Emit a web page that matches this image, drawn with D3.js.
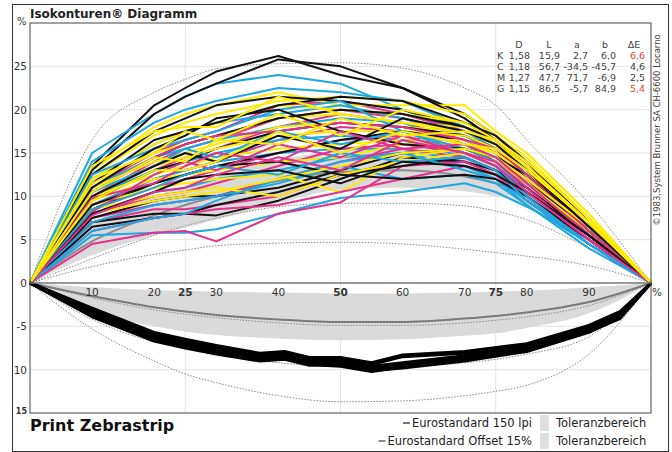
<!DOCTYPE html>
<html>
<head>
<meta charset="utf-8">
<script src="https://cdn.jsdelivr.net/npm/d3@7"></script>
<style>
  body { margin: 0; background: #fff; }
  svg text { font-family: "DejaVu Sans", Verdana, sans-serif; }
</style>
</head>
<body>
<svg id="chart" width="672" height="452"></svg>
<script>
// tone values (%) of the zebrastrip patches
const pctX = [0, 10, 20, 25, 30, 40, 50, 60, 70, 75, 80, 90, 100];
const xTicks = [10, 20, 25, 30, 40, 50, 60, 70, 75, 80, 90];
const boldTicks = [25, 50, 75];
const yTicks = [25, 20, 15, 10, 5, 0, -5, -10];
const yTickLabels = ["25", "20", "15", "10", "5", "0", "-5", "10"];

// measured curves above the axis, one value per pctX
const blackCurves = [
  [0, 13.5, 20.5, 22.5, 24.4, 26.2, 24.0, 22.5, 19.5, 17.0, 14.0, 7.0, 0],
  [0, 13.0, 19.5, 21.5, 23.0, 25.8, 25.0, 22.5, 19.0, 16.5, 13.5, 7.0, 0],
  [0, 12.5, 17.5, 19.0, 20.5, 21.5, 21.0, 20.0, 18.0, 16.0, 13.0, 6.5, 0],
  [0, 11.5, 16.5, 17.5, 18.5, 20.5, 21.5, 21.0, 18.5, 17.0, 14.0, 7.0, 0],
  [0, 10.5, 14.5, 16.0, 17.0, 19.0, 20.0, 19.5, 18.0, 16.5, 13.5, 7.0, 0],
  [0, 9.5, 13.0, 14.0, 15.5, 17.5, 18.5, 18.0, 17.0, 15.5, 12.5, 6.5, 0],
  [0, 8.5, 11.5, 12.5, 13.5, 15.0, 16.5, 17.5, 16.5, 15.0, 12.0, 6.0, 0],
  [0, 7.5, 9.5, 10.0, 10.0, 11.0, 13.0, 15.0, 15.5, 14.0, 11.5, 6.0, 0],
  [0, 7.0, 8.0, 8.0, 7.8, 9.5, 12.0, 14.5, 14.0, 13.0, 10.5, 5.5, 0],
  [0, 6.5, 7.5, 8.0, 9.0, 10.5, 12.5, 13.5, 14.5, 13.0, 11.0, 5.5, 0],
  [0, 11.0, 15.5, 17.0, 19.0, 20.0, 17.5, 16.0, 15.5, 14.5, 12.5, 6.5, 0],
  [0, 9.0, 11.5, 12.5, 13.5, 14.0, 12.5, 12.0, 12.5, 12.0, 10.0, 5.0, 0],
  [0, 10.0, 13.5, 15.0, 14.0, 17.0, 15.5, 19.0, 17.5, 16.0, 13.0, 6.5, 0],
  [0, 8.0, 10.5, 12.0, 12.5, 13.0, 11.5, 14.0, 13.5, 12.5, 10.5, 5.5, 0]
];
const cyanCurves = [
  [0, 15.0, 19.5, 21.5, 23.0, 24.0, 23.0, 20.0, 17.5, 15.5, 12.0, 5.5, 0],
  [0, 14.0, 18.5, 20.0, 21.0, 22.5, 22.0, 21.0, 18.0, 16.0, 12.5, 6.0, 0],
  [0, 12.0, 16.0, 17.5, 18.5, 19.5, 20.5, 19.0, 17.0, 15.0, 11.5, 5.5, 0],
  [0, 11.0, 14.5, 15.5, 16.5, 18.0, 19.0, 18.5, 16.0, 14.0, 11.0, 5.0, 0],
  [0, 10.0, 13.0, 14.0, 15.0, 16.5, 17.0, 16.5, 14.5, 13.0, 10.0, 4.5, 0],
  [0, 9.0, 12.0, 13.0, 14.0, 15.0, 15.5, 15.5, 14.0, 12.5, 9.5, 4.5, 0],
  [0, 8.0, 10.5, 11.0, 12.0, 13.0, 14.5, 15.0, 13.5, 12.0, 9.0, 4.0, 0],
  [0, 5.5, 5.8, 5.8, 6.2, 8.0, 9.8, 10.5, 11.5, 10.5, 8.8, 5.0, 0],
  [0, 7.0, 9.0, 9.5, 10.0, 11.5, 13.5, 12.0, 12.5, 11.5, 9.0, 4.5, 0],
  [0, 12.5, 15.5, 16.5, 17.5, 20.0, 21.0, 17.5, 15.5, 14.0, 10.5, 5.0, 0],
  [0, 6.0, 7.5, 8.0, 9.5, 12.0, 14.0, 15.0, 13.0, 12.0, 9.5, 4.5, 0],
  [0, 10.5, 13.5, 15.5, 14.5, 17.5, 16.0, 17.5, 15.0, 13.5, 10.0, 4.5, 0],
  [0, 8.5, 11.0, 12.5, 13.5, 12.5, 15.0, 14.0, 14.5, 13.0, 9.5, 4.5, 0]
];
const magentaCurves = [
  [0, 11.0, 15.0, 16.5, 17.5, 20.5, 21.0, 19.5, 17.5, 16.0, 13.0, 6.0, 0],
  [0, 10.0, 14.0, 15.5, 16.5, 19.0, 20.0, 19.0, 17.0, 15.5, 12.5, 6.0, 0],
  [0, 9.5, 13.0, 14.5, 15.5, 18.0, 19.5, 18.5, 16.5, 15.0, 12.0, 5.5, 0],
  [0, 9.0, 12.0, 13.0, 14.0, 16.5, 18.0, 17.5, 16.0, 14.5, 11.5, 5.5, 0],
  [0, 8.5, 11.0, 12.0, 13.0, 15.0, 16.5, 17.0, 15.5, 14.0, 11.0, 5.0, 0],
  [0, 8.0, 10.0, 10.5, 11.5, 13.5, 15.5, 16.0, 15.0, 13.5, 10.5, 5.0, 0],
  [0, 7.5, 9.0, 9.5, 10.0, 12.0, 14.0, 15.5, 14.5, 13.0, 10.0, 4.5, 0],
  [0, 7.0, 8.5, 8.5, 9.0, 10.0, 12.5, 14.0, 14.0, 12.5, 9.5, 4.5, 0],
  [0, 4.5, 5.8, 6.0, 4.8, 8.0, 9.3, 13.5, 14.0, 12.5, 10.0, 5.0, 0],
  [0, 6.0, 7.5, 8.0, 8.5, 9.0, 10.5, 12.0, 13.5, 12.5, 9.5, 4.5, 0],
  [0, 10.5, 14.5, 16.0, 17.0, 17.5, 18.5, 18.0, 16.5, 15.5, 12.5, 6.0, 0],
  [0, 8.2, 12.5, 14.0, 13.0, 16.0, 14.5, 17.0, 15.0, 14.0, 11.0, 5.0, 0],
  [0, 9.8, 11.5, 13.5, 15.0, 14.0, 17.5, 15.5, 16.0, 14.5, 11.5, 5.5, 0],
  [0, 7.8, 10.5, 11.0, 12.5, 14.5, 13.0, 16.5, 15.0, 13.5, 10.5, 5.0, 0]
];
const yellowCurves = [
  [0, 13.0, 18.0, 19.5, 20.5, 22.0, 20.5, 20.5, 20.5, 17.5, 15.0, 8.0, 0],
  [0, 12.5, 17.0, 18.5, 19.5, 21.0, 21.5, 21.0, 19.5, 17.0, 14.5, 7.5, 0],
  [0, 12.0, 16.0, 17.5, 18.5, 20.5, 20.0, 19.5, 18.5, 16.5, 14.0, 7.5, 0],
  [0, 11.5, 15.0, 16.0, 17.0, 19.0, 19.5, 18.5, 18.0, 16.0, 13.5, 7.0, 0],
  [0, 11.0, 14.0, 15.0, 16.0, 18.0, 18.5, 18.0, 17.5, 16.0, 13.0, 7.0, 0],
  [0, 10.5, 13.5, 14.5, 15.5, 17.0, 17.5, 17.5, 17.0, 15.5, 13.0, 7.0, 0],
  [0, 10.0, 12.5, 13.5, 14.5, 15.5, 16.0, 16.5, 16.5, 15.0, 12.5, 6.5, 0],
  [0, 9.5, 12.0, 12.5, 13.0, 14.0, 14.5, 16.0, 16.0, 15.0, 12.5, 6.5, 0],
  [0, 9.0, 11.0, 11.5, 12.0, 12.5, 10.5, 14.5, 15.5, 14.5, 12.0, 6.5, 0],
  [0, 8.5, 10.0, 10.5, 11.0, 10.0, 12.5, 14.0, 15.0, 14.0, 11.5, 6.0, 0],
  [0, 13.5, 17.5, 18.0, 18.0, 21.5, 19.5, 18.5, 17.5, 16.0, 13.5, 7.0, 0],
  [0, 8.0, 9.5, 10.0, 10.5, 12.0, 13.5, 15.0, 15.5, 14.5, 12.0, 6.5, 0],
  [0, 12.0, 15.0, 17.5, 16.5, 19.5, 17.0, 20.0, 18.5, 16.5, 14.0, 7.5, 0],
  [0, 10.5, 14.5, 14.0, 16.5, 16.0, 19.0, 17.0, 17.5, 16.5, 13.5, 7.0, 0],
  [0, 9.5, 13.0, 13.0, 14.0, 17.5, 15.0, 17.5, 16.0, 15.5, 13.0, 7.0, 0]
];

// reference curves above the axis
const upperBandLow = [0, 3.2, 5.5, 6.4, 7.3, 9.2, 10.8, 11.0, 10.6, 10.0, 9.0, 5.0, 0];
const upperBandHigh = [0, 6.8, 10.0, 11.2, 12.3, 14.2, 15.3, 15.6, 14.8, 13.8, 12.3, 7.2, 0];
const upperStandard = [0, 4.8, 7.8, 9.0, 10.0, 11.8, 12.8, 13.0, 12.3, 11.5, 10.3, 6.0, 0];
const upperDotOuter = [0, 16.5, 22.0, 23.5, 24.7, 25.3, 25.4, 24.8, 22.5, 20.5, 16.5, 9.2, 0];
const upperDotMid = [0, 2.8, 5.5, 6.6, 7.5, 8.8, 9.2, 9.2, 8.9, 8.3, 7.3, 4.0, 0];
const upperDotInner = [0, 1.9, 3.3, 3.8, 4.3, 4.6, 4.7, 4.5, 3.9, 3.5, 3.1, 2.0, 0];

// reference curves below the axis
const lowerBandTop = [0, -0.5, -0.8, -0.9, -1.0, -1.1, -1.2, -1.2, -1.1, -1.0, -0.9, -0.5, 0];
const lowerBandBottom = [0, -3.2, -5.0, -5.6, -6.0, -6.4, -6.6, -6.5, -6.1, -5.8, -5.2, -3.5, 0];
const lowerStandard = [0, -1.5, -2.8, -3.3, -3.7, -4.2, -4.5, -4.5, -4.1, -3.8, -3.4, -2.2, 0];
const lowerDotNear = [0, -1.7, -3.1, -3.6, -4.0, -4.6, -4.9, -4.9, -4.6, -4.3, -3.9, -2.6, 0];
const lowerDotBand = [0, -4.2, -6.8, -7.6, -8.2, -9.2, -9.6, -9.6, -9.2, -8.8, -8.2, -6.2, 0];
const lowerDotOuter = [0, -5.3, -9.0, -10.5, -11.5, -13.0, -13.7, -13.6, -13.0, -12.5, -11.8, -8.2, 0];

// black band below the axis (denser measuring points)
const bandX = [0, 10, 20, 25, 30, 37, 41, 45, 50, 55, 60, 70, 80, 90, 95, 100];
const lowerBlack = [
  [0, -2.9, -5.7, -6.5, -7.2, -8.1, -7.9, -8.6, -8.6, -9.2, -8.3, -7.9, -7.0, -4.9, -3.3, 0],
  [0, -3.1, -5.9, -6.8, -7.4, -8.3, -8.1, -8.8, -8.8, -9.4, -8.5, -8.1, -7.1, -5.0, -3.4, 0],
  [0, -3.3, -6.1, -7.0, -7.6, -8.5, -8.3, -9.0, -8.9, -9.6, -9.2, -8.4, -7.3, -5.2, -3.6, 0],
  [0, -3.5, -6.3, -7.2, -7.8, -8.7, -8.5, -9.2, -9.1, -9.8, -9.4, -8.6, -7.5, -5.3, -3.7, 0],
  [0, -3.7, -6.5, -7.3, -8.0, -8.8, -8.6, -9.3, -9.2, -10.0, -9.6, -8.8, -7.7, -5.5, -3.9, 0],
  [0, -3.9, -6.7, -7.5, -8.2, -9.0, -8.8, -9.5, -9.4, -10.1, -9.8, -9.0, -7.9, -5.7, -4.0, 0],
  [0, -3.0, -6.0, -7.1, -7.7, -8.6, -8.4, -9.1, -9.3, -9.9, -9.5, -8.7, -7.6, -5.4, -3.8, 0],
  [0, -3.6, -6.4, -7.4, -8.1, -8.9, -8.7, -9.4, -9.6, -10.2, -9.7, -8.9, -7.8, -5.6, -4.1, 0]
];

// measurement table
const tableHead = ["D", "L", "a", "b", "ΔE"];
const tableRows = ["K", "C", "M", "G"];
const tableValues = [
  ["1,58", "15,9", "2,7", "6,0", "6,6"],
  ["1,18", "56,7", "-34,5", "-45,7", "4,6"],
  ["1,27", "47,7", "71,7", "-6,9", "2,5"],
  ["1,15", "86,5", "-5,7", "84,9", "5,4"]
];
const deltaEWarn = [true, false, false, true];

const legendItems = ["Eurostandard 150 lpi", "Eurostandard Offset 15%"];

const svg = d3.select("#chart");
const plotLeft = 30, plotRight = 651, plotTop = 23, plotBottom = 413;

const x = d3.scaleLinear().domain([0, 100]).range([plotLeft, plotRight]);
const y = d3.scaleLinear().domain([-15, 30]).range([plotBottom, plotTop]);

// outer frame
svg.append("rect")
  .attr("x", 12.5).attr("y", 4.5).attr("width", 656).attr("height", 447)
  .attr("fill", "none").attr("stroke", "#333");

// grid
svg.append("g").selectAll("line").data([25, 20, 15, 10, 5, -5, -10]).join("line")
  .attr("x1", plotLeft).attr("x2", plotRight)
  .attr("y1", d => y(d)).attr("y2", d => y(d))
  .attr("stroke", "#e4e4e4").attr("stroke-width", 1);
svg.append("g").selectAll("line").data(boldTicks).join("line")
  .attr("x1", d => x(d)).attr("x2", d => x(d))
  .attr("y1", plotTop).attr("y2", plotBottom)
  .attr("stroke", "#e4e4e4").attr("stroke-width", 1);

const line = d3.line().x((d, i) => x(pctX[i])).y(d => y(d));
const smooth = d3.line().x((d, i) => x(pctX[i])).y(d => y(d)).curve(d3.curveMonotoneX);
const band = d3.area().x((d, i) => x(pctX[i])).y0(d => y(d[0])).y1(d => y(d[1])).curve(d3.curveMonotoneX);

// tolerance bands
svg.append("path").datum(upperBandLow.map((v, i) => [v, upperBandHigh[i]]))
  .attr("d", band).attr("fill", "#dadada");
svg.append("path").datum(lowerBandTop.map((v, i) => [v, lowerBandBottom[i]]))
  .attr("d", band).attr("fill", "#dadada");

// dotted limits
[upperDotOuter, upperDotMid, upperDotInner, lowerDotNear, lowerDotBand, lowerDotOuter].forEach(c => {
  svg.append("path").datum(c).attr("d", smooth)
    .attr("fill", "none").attr("stroke", "#8a8a8a")
    .attr("stroke-width", 1).attr("stroke-dasharray", "1.5,1.5");
});

// standards
svg.append("path").datum(upperStandard).attr("d", smooth)
  .attr("fill", "none").attr("stroke", "#8c8c8c").attr("stroke-width", 2);
svg.append("path").datum(lowerStandard).attr("d", smooth)
  .attr("fill", "none").attr("stroke", "#7a7a7a").attr("stroke-width", 2);

// measured curves, colours interleaved
const inks = [
  { curves: blackCurves, color: "#111111" },
  { curves: cyanCurves, color: "#1ea8e0" },
  { curves: magentaCurves, color: "#e5308c" },
  { curves: yellowCurves, color: "#ffea00" }
];
const gCurves = svg.append("g");
const maxN = d3.max(inks, k => k.curves.length);
for (let i = 0; i < maxN; i++) {
  inks.forEach(k => {
    if (i < k.curves.length) {
      gCurves.append("path").datum(k.curves[i]).attr("d", line)
        .attr("fill", "none").attr("stroke", k.color)
        .attr("stroke-width", 2).attr("stroke-linejoin", "round");
    }
  });
}

// black band below
const bandLine = d3.line().x((d, i) => x(bandX[i])).y(d => y(d));
svg.append("g").selectAll("path").data(lowerBlack).join("path")
  .attr("d", bandLine)
  .attr("fill", "none").attr("stroke", "#000")
  .attr("stroke-width", 3).attr("stroke-linejoin", "round");

// zero axis and plot frame
svg.append("line")
  .attr("x1", plotLeft).attr("x2", plotRight).attr("y1", y(0)).attr("y2", y(0))
  .attr("stroke", "#777").attr("stroke-width", 1.5);
svg.append("rect")
  .attr("x", plotLeft).attr("y", plotTop).attr("width", plotRight - plotLeft).attr("height", plotBottom - plotTop)
  .attr("fill", "none").attr("stroke", "#444").attr("stroke-width", 1);

// x labels
svg.append("g").selectAll("text").data(xTicks).join("text")
  .attr("x", d => x(d)).attr("y", y(0) + 13)
  .attr("text-anchor", "middle")
  .attr("font-size", 10.5)
  .attr("font-weight", d => boldTicks.includes(d) ? "bold" : "normal")
  .attr("fill", "#333")
  .text(d => d);
svg.append("text").attr("x", plotRight + 6).attr("y", y(0) + 13)
  .attr("text-anchor", "middle").attr("font-size", 10.5).attr("fill", "#333").text("%");

// y labels
svg.append("g").selectAll("text").data(yTicks).join("text")
  .attr("x", 27).attr("y", d => y(d) + 4)
  .attr("text-anchor", "end")
  .attr("font-size", 10.5).attr("fill", "#333")
  .text((d, i) => yTickLabels[i]);
svg.append("text").attr("x", 27).attr("y", plotBottom + 1)
  .attr("text-anchor", "end").attr("font-size", 8).attr("font-weight", "bold")
  .attr("fill", "#333").text("15");
svg.append("text").attr("x", 17).attr("y", 25)
  .attr("font-size", 10).attr("fill", "#333").text("%");

// titles
svg.append("text").attr("x", plotLeft).attr("y", 18)
  .attr("font-size", 12).attr("font-weight", "bold").attr("fill", "#222")
  .text("Isokonturen® Diagramm");
svg.append("text").attr("x", plotLeft).attr("y", 431)
  .attr("font-size", 16).attr("font-weight", "bold").attr("fill", "#111")
  .text("Print Zebrastrip");

// table
const colX = [530, 560, 588, 616, 645];
const rowY = [56, 67, 78, 89];
const gt = svg.append("g").attr("font-size", 9.5).attr("fill", "#444");
tableHead.forEach((h, j) => {
  gt.append("text").attr("x", colX[j] - 11).attr("y", 48)
    .attr("text-anchor", "middle").text(h);
});
tableRows.forEach((r, i) => {
  gt.append("text").attr("x", 497).attr("y", rowY[i] + 3).text(r);
  tableValues[i].forEach((v, j) => {
    gt.append("text").attr("x", colX[j]).attr("y", rowY[i] + 3)
      .attr("text-anchor", "end")
      .attr("fill", j === 4 && deltaEWarn[i] ? "#ee4433" : "#444")
      .text(v);
  });
});

// copyright
svg.append("text")
  .attr("transform", "translate(660,130) rotate(-90)")
  .attr("text-anchor", "middle").attr("font-size", 8.5).attr("fill", "#4d3a3a")
  .text("©1983,System Brunner SA CH-6600 Locarno");

// legend
const legendY = [427, 445];
legendItems.forEach((t, i) => {
  const txt = svg.append("text").attr("x", 532).attr("y", legendY[i])
    .attr("text-anchor", "end").attr("font-size", 11.5).attr("fill", "#222").text(t);
  const w = txt.node().getComputedTextLength();
  svg.append("line")
    .attr("x1", 532 - w - 9).attr("x2", 532 - w - 2)
    .attr("y1", legendY[i] - 4).attr("y2", legendY[i] - 4)
    .attr("stroke", i === 0 ? "#777" : "#888").attr("stroke-width", 2);
  svg.append("rect").attr("x", 540).attr("y", legendY[i] - 12)
    .attr("width", 9).attr("height", 16).attr("fill", "#e0e0e0");
  svg.append("text").attr("x", 556).attr("y", legendY[i])
    .attr("font-size", 11.5).attr("fill", "#222").text("Toleranzbereich");
});
</script>
</body>
</html>
